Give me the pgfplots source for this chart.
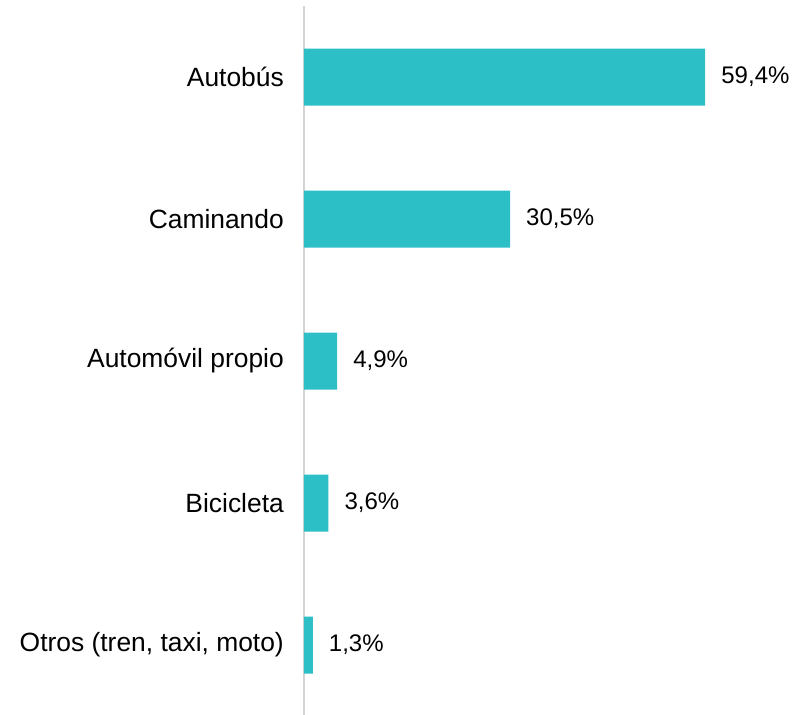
\documentclass[border=0pt]{standalone}
\usepackage{pgfplots}
\pgfplotsset{compat=1.18}
\usepackage{fontspec}
\setmainfont{Liberation Sans}
\definecolor{barc}{RGB}{44,191,198}
\definecolor{axc}{RGB}{212,212,212}
\begin{document}
\begin{tikzpicture}
\path[use as bounding box] (0,0) rectangle (793pt,715pt);
\begin{axis}[
  at={(304pt,-1pt)}, anchor=south west,
  scale only axis, width=489pt, height=710pt,
  xbar, bar width=57pt,
  xmin=0, xmax=72.4,
  ymin=-0.5, ymax=4.5, y dir=reverse,
  axis x line=none,
  axis y line*=left,
  y axis line style={draw=axc, line width=2pt, -},
  ytick={0,1,2,3,4},
  yticklabels={Autobús, Caminando, Automóvil propio, Bicicleta, {Otros (tren, taxi, moto)}},
  major tick length=0pt,
  yticklabel style={font=\fontsize{26.4}{31}\selectfont, anchor=east, inner sep=0pt, xshift=-20pt},
  clip=false,
  nodes near coords={\pgfmathprintnumber[fixed,precision=1,fixed zerofill,use comma,assume math mode=true]{\pgfplotspointmeta}\%},
  nodes near coords style={font=\fontsize{24}{28}\selectfont, anchor=west, inner sep=0pt, xshift=16pt},
  point meta=explicit,
]
\addplot[fill=barc, draw=none] coordinates {
  (59.4,0) [59.4]
  (30.5,1) [30.5]
  (4.9,2) [4.9]
  (3.6,3) [3.6]
  (1.3,4) [1.3]
};
\end{axis}
\end{tikzpicture}
\end{document}
